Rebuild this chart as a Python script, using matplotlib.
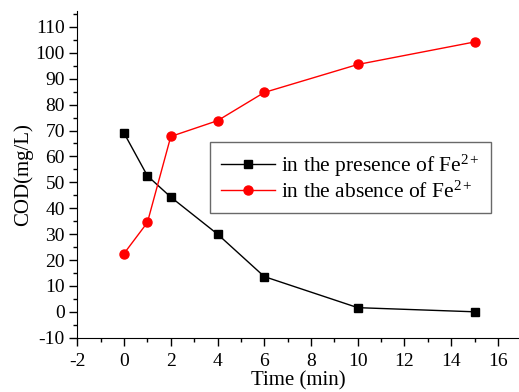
import matplotlib
matplotlib.use("Agg")
import matplotlib.pyplot as plt
from matplotlib.ticker import MultipleLocator

plt.rcParams['font.family'] = ['Liberation Serif', 'DejaVu Serif']
plt.rcParams['mathtext.fontset'] = 'custom'
plt.rcParams['mathtext.rm'] = 'Liberation Serif'
plt.rcParams['mathtext.it'] = 'Liberation Serif:italic'
plt.rcParams['axes.unicode_minus'] = False

time = [0, 1, 2, 4, 6, 10, 15]
cod_presence = [69, 52.5, 44.3, 30, 13.6, 1.6, 0]
cod_absence = [22.5, 34.5, 67.7, 73.8, 84.7, 95.5, 104.2]
label_presence = r'in the presence of Fe$^{2+}$'
label_absence = r'in the absence of Fe$^{2+}$'

fig = plt.figure(figsize=(5.19, 3.92), dpi=100)
ax = fig.add_axes([77.3/519, 54.3/392, (519-77.3)/519, 326.3/392])

ax.plot(time, cod_presence, color='black', marker='s', markersize=5.5, linewidth=1, label=label_presence)
ax.plot(time, cod_absence, color='red', marker='o', markersize=6.5, linewidth=1, label=label_absence)

ax.set_xlim(-2, 16.9)
ax.set_ylim(-10, 116)
ax.xaxis.set_major_locator(MultipleLocator(2))
ax.xaxis.set_minor_locator(MultipleLocator(1))
ax.yaxis.set_major_locator(MultipleLocator(10))
ax.yaxis.set_minor_locator(MultipleLocator(5))
ax.spines['top'].set_visible(False)
ax.spines['right'].set_visible(False)
ax.tick_params(which='major', direction='out', length=6, width=1, labelsize=14)
ax.tick_params(axis='x', which='major', pad=5)
ax.tick_params(axis='y', which='major', pad=3)
ax.tick_params(which='minor', direction='out', length=3, width=1)

ax.set_xlabel('Time (min)', fontsize=15, labelpad=1)
ax.set_ylabel('COD(mg/L)', fontsize=15, labelpad=2)

leg = ax.legend(loc='upper left', bbox_to_anchor=((210-77.3)/441.7, (337.7-142)/326.3),
                borderaxespad=0, fontsize=15.5, frameon=True, fancybox=False, edgecolor='#444444',
                handlelength=2.5, handletextpad=0.3, borderpad=0.5, labelspacing=0.1)
leg.get_frame().set_linewidth(1)

fig.savefig('out.png', dpi=100)
